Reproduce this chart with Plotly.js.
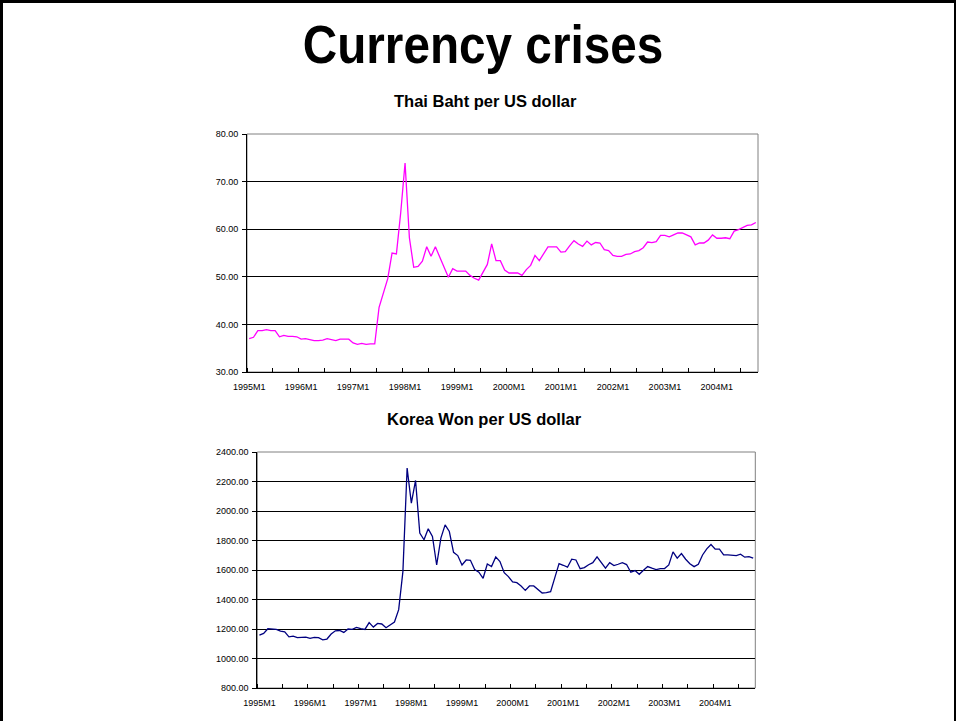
<!DOCTYPE html>
<html>
<head>
<meta charset="utf-8">
<script src="https://cdn.plot.ly/plotly-3.0.1.min.js"></script>
<style>
  html, body { margin: 0; padding: 0; background: #fff; }
  #wrap { position: relative; width: 956px; height: 721px; }
  #chart { position: absolute; left: 0; top: 0; width: 956px; height: 721px; }
  #frame {
    position: absolute; left: 0; top: 0; width: 956px; height: 721px;
    box-sizing: border-box; border-left: 3px solid #000; border-top: 3px solid #000;
    border-right: 2px solid #000; pointer-events: none;
  }
</style>
</head>
<body>
<div id="wrap">
  <div id="chart"></div>
  <div id="frame"></div>
</div>
<script>
// Monthly exchange rates, 1995M1 .. 2004M10 (118 months)
const years = [1995, 1996, 1997, 1998, 1999, 2000, 2001, 2002, 2003, 2004];

const bahtPerUSD = [
  37.0, 37.3, 38.7, 38.7, 38.9, 38.7, 38.7, 37.4, 37.7, 37.5, 37.5, 37.4,
  36.9, 37.0, 36.8, 36.6, 36.6, 36.7, 37.0, 36.8, 36.6, 36.9, 36.9, 36.9,
  36.1, 35.8, 36.0, 35.8, 35.9, 35.9, 43.6, 46.6, 49.6, 55.0, 54.8, 63.5,
  73.9, 58.2, 52.0, 52.2, 53.3, 56.3, 54.3, 56.3, 54.2, 52.1, 49.9, 51.7,
  51.2, 51.2, 51.2, 50.3, 49.7, 49.3, 50.8, 52.6, 56.9, 53.4, 53.4, 51.4,
  50.8, 50.8, 50.8, 50.3, 51.5, 52.4, 54.5, 53.4, 54.9, 56.3, 56.3, 56.3,
  55.2, 55.3, 56.5, 57.6, 56.9, 56.4, 57.5, 56.7, 57.2, 57.1, 55.7, 55.5,
  54.5, 54.3, 54.3, 54.7, 54.8, 55.3, 55.5, 56.1, 57.3, 57.2, 57.4, 58.7,
  58.7, 58.4, 58.8, 59.2, 59.2, 58.8, 58.4, 56.7, 57.1, 57.1, 57.7, 58.8,
  58.1, 58.1, 58.2, 58.0, 59.6, 59.9, 60.4, 60.8, 60.9, 61.4
];

const wonPerUSD = [
  1159, 1170, 1202, 1200, 1197, 1186, 1181, 1147, 1152, 1141, 1141, 1145,
  1136, 1143, 1141, 1127, 1132, 1166, 1188, 1190, 1177, 1200, 1197, 1211,
  1202, 1197, 1243, 1213, 1238, 1234, 1209, 1229, 1247, 1331, 1589, 2291,
  2053, 2207, 1850, 1805, 1879, 1827, 1634, 1816, 1906, 1861, 1720, 1698,
  1634, 1668, 1666, 1603, 1585, 1544, 1641, 1623, 1689, 1657, 1582, 1555,
  1519, 1514, 1492, 1462, 1492, 1492, 1467, 1444, 1446, 1453, 1548, 1643,
  1632, 1619, 1673, 1668, 1609, 1616, 1636, 1650, 1689, 1650, 1612, 1650,
  1630, 1639, 1650, 1637, 1585, 1596, 1571, 1598, 1623, 1612, 1603, 1610,
  1610, 1634, 1723, 1680, 1711, 1673, 1643, 1623, 1639, 1702, 1743, 1773,
  1741, 1741, 1702, 1702, 1702, 1698, 1707, 1687, 1691, 1680
];

const tickLabels = ['1995M1', '1996M1', '1997M1', '1998M1', '1999M1',
                    '2000M1', '2001M1', '2002M1', '2003M1', '2004M1'];

// Month labels like "1995M1" and their positions on the category axis
const monthNames = [];
years.forEach(y => { for (let m = 1; m <= 12; m++) monthNames.push(y + 'M' + m); });
const months = monthNames.slice(0, bahtPerUSD.length);
const idx = months.map((_, i) => i);
const labelPos = tickLabels.map(t => months.indexOf(t));
const boundaryTicks = [];
for (let b = -0.5; b < months.length - 0.5; b += 6) boundaryTicks.push(b);

const W = 956, H = 721;
const px = v => v / W;
const py = v => 1 - v / H;

const tickFont = { family: 'Liberation Sans, Arial, sans-serif', size: 9, color: '#000' };

function xAxis(domain, anchor) {
  return {
    domain: domain, anchor: anchor,
    range: [-0.5, months.length - 0.5],
    tickmode: 'array', tickvals: labelPos, ticktext: tickLabels,
    ticks: '', showgrid: false, zeroline: false,
    showline: true, linecolor: '#000', linewidth: 1,
    tickfont: tickFont, ticklabelstandoff: 6,
    minor: { tickmode: 'array', tickvals: boundaryTicks, ticks: 'inside',
             ticklen: 4, tickwidth: 1, tickcolor: '#000', showgrid: false },
    fixedrange: true
  };
}

function yAxis(domain, anchor, lo, hi, step) {
  return {
    domain: domain, anchor: anchor,
    range: [lo, hi], tickmode: 'linear', tick0: lo, dtick: step,
    tickformat: '.2f',
    showgrid: true, gridcolor: '#000', gridwidth: 1,
    zeroline: false,
    showline: true, linecolor: '#000', linewidth: 1,
    ticks: 'outside', ticklen: 4, tickcolor: '#000',
    tickfont: tickFont, ticklabelstandoff: 2,
    fixedrange: true
  };
}

const traces = [
  { x: idx, y: bahtPerUSD, xaxis: 'x', yaxis: 'y', type: 'scatter', mode: 'lines',
    line: { color: '#FF00FF', width: 1.3 }, hoverinfo: 'skip' },
  { x: idx, y: wonPerUSD, xaxis: 'x2', yaxis: 'y2', type: 'scatter', mode: 'lines',
    line: { color: '#000080', width: 1.3 }, hoverinfo: 'skip' }
];

const layout = {
  width: W, height: H,
  margin: { l: 0, r: 0, t: 0, b: 0 },
  paper_bgcolor: '#fff', plot_bgcolor: '#fff',
  showlegend: false,
  title: {
    text: '<b>Currency crises</b>',
    font: { family: 'Liberation Sans, Arial, sans-serif', size: 53, color: '#000' },
    x: px(483), xanchor: 'center', y: py(44), yanchor: 'middle'
  },
  xaxis: xAxis([px(247), px(758)], 'y'),
  yaxis: yAxis([py(372), py(134)], 'x', 30, 80, 10),
  xaxis2: xAxis([px(257.3), px(755.3)], 'y2'),
  yaxis2: yAxis([py(688), py(452)], 'x2', 800, 2400, 200),
  shapes: [
    { type: 'rect', xref: 'x domain', yref: 'y domain', x0: 0, x1: 1, y0: 0, y1: 1,
      line: { color: '#808080', width: 1 }, layer: 'below' },
    { type: 'rect', xref: 'x2 domain', yref: 'y2 domain', x0: 0, x1: 1, y0: 0, y1: 1,
      line: { color: '#808080', width: 1 }, layer: 'below' }
  ],
  annotations: [
    { text: '<b>Thai Baht per US dollar</b>', xref: 'paper', yref: 'paper',
      x: px(485.5), y: py(101), xanchor: 'center', yanchor: 'middle', showarrow: false,
      font: { family: 'Liberation Sans, Arial, sans-serif', size: 16.5, color: '#000' } },
    { text: '<b>Korea Won per US dollar</b>', xref: 'paper', yref: 'paper',
      x: px(484), y: py(419), xanchor: 'center', yanchor: 'middle', showarrow: false,
      font: { family: 'Liberation Sans, Arial, sans-serif', size: 16.5, color: '#000' } }
  ]
};

Plotly.newPlot('chart', traces, layout, { staticPlot: true, displayModeBar: false })
  .then(gd => {
    // Condense the slide heading horizontally around its own centre
    const t = gd.querySelector('.gtitle');
    if (t) {
      const bb = t.getBBox();
      const cx = bb.x + bb.width / 2;
      const prev = t.getAttribute('transform') || '';
      t.setAttribute('transform',
        `translate(${cx},0) scale(0.9,1) translate(${-cx},0) ${prev}`);
    }
  });
</script>
</body>
</html>
